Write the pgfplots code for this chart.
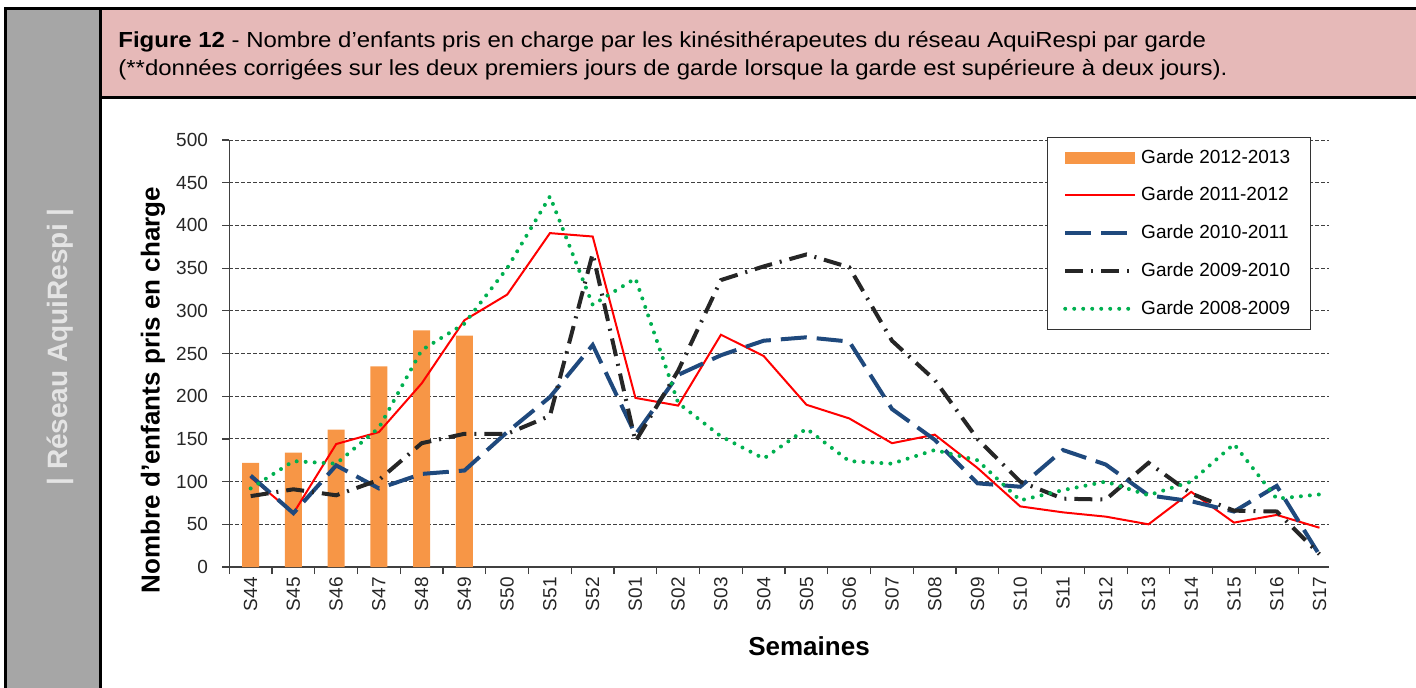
\documentclass[border=0pt]{standalone}
\usepackage{fontspec}
\setmainfont{Liberation Sans}
\newfontfamily\headfont{Liberation Sans}[FakeStretch=1.1]
\usepackage{pgfplots}
\pgfplotsset{compat=1.18}

\definecolor{barorange}{HTML}{F79646}
\definecolor{redline}{HTML}{FF0000}
\definecolor{blueline}{HTML}{1F497D}
\definecolor{darkline}{HTML}{262626}
\definecolor{greenline}{HTML}{00B050}
\definecolor{headpink}{HTML}{E6B9B8}
\definecolor{sidegrey}{HTML}{A6A6A6}
\definecolor{sidetext}{HTML}{E4E4E4}

\begin{document}
\begin{tikzpicture}
% frame, header and side band (pixel units, y downwards)
\begin{scope}[x=0.5pt,y=-0.5pt]
\useasboundingbox (0,0) rectangle (1416,687);
\fill[sidegrey] (5,8) rectangle (100,700);
\fill[headpink] (100,8) rectangle (1420,97);
\draw[line width=1.5pt] (5,700) -- (5,8) -- (1420,8);
\draw[line width=1.5pt] (100,700) -- (100,8);
\draw[line width=1.5pt] (100,97) -- (1420,97);
\node[anchor=base west, inner sep=0pt, font=\headfont\fontsize{10.9}{13}\selectfont] at (118,47)
  {\textbf{Figure 12} - Nombre d’enfants pris en charge par les kinésithérapeutes du réseau AquiRespi par garde};
\node[anchor=base west, inner sep=0pt, font=\headfont\fontsize{10.9}{13}\selectfont] at (118,75)
  {(**données corrigées sur les deux premiers jours de garde lorsque la garde est supérieure à deux jours).};
\node[rotate=90, text=sidetext, font=\bfseries\fontsize{14}{16}\selectfont] at (60,347) {| Réseau AquiRespi |};
\node[rotate=90, font=\bfseries\fontsize{13}{15}\selectfont] at (153,390) {Nombre d'enfants pris en charge};
\node[font=\bfseries\fontsize{13}{15}\selectfont] at (809,646) {Semaines};
\end{scope}

\begin{axis}[
    at={(114.65pt,-283.5pt)}, anchor=south west,
    scale only axis, width=550pt, height=213.5pt,
    xmin=-0.5, xmax=25.23, ymin=0, ymax=500,
    axis x line*=bottom, axis y line*=left,
    every outer x axis line/.append style={-},
    every outer y axis line/.append style={-},
    axis line style={-, black!75, line width=0.7pt},
    tick align=outside, major tick length=3.5pt, minor tick length=3.5pt,
    tick style={black!75, line width=0.6pt},
    ytick={0,50,...,500},
    xtick={0,...,25},
    xticklabels={S44,S45,S46,S47,S48,S49,S50,S51,S52,S01,S02,S03,S04,S05,S06,S07,S08,S09,S10,S11,S12,S13,S14,S15,S16,S17},
    minor xtick={-0.5,0.5,...,24.5},
    major x tick style={draw=none},
    ymajorgrids,
    major grid style={dash pattern=on 2pt off 1pt, black!75, line width=0.5pt},
    /pgf/number format/assume math mode=true,
    tick label style={font=\fontsize{9.5}{11}\selectfont, text=black!85},
    xticklabel style={rotate=90, anchor=east, inner sep=0pt, xshift=-1.5pt},
    yticklabel style={anchor=east, inner sep=0pt, xshift=-7pt},
    legend style={at={(0.743,1.0077)}, anchor=north west, draw=black!80,
        line width=0.6pt, fill=white, font=\fontsize{9.5}{11}\selectfont,
        inner xsep=8pt, inner ysep=4pt, row sep=6.5pt, cells={anchor=west}},
    legend cell align=left,
    legend image code/.code={\draw[#1] (0pt,0pt) -- (35pt,0pt);},
]

\addplot[ybar, bar width=8.5pt, fill=barorange, draw=none,
    legend image code/.code={\fill[barorange] (0pt,-3pt) rectangle (35pt,3pt);}]
    coordinates {(0,122)(1,134)(2,161)(3,235)(4,277)(5,271)};
\addlegendentry{Garde 2012-2013}

\addplot[redline, line width=1pt, mark=none]
    coordinates {(0,105)(1,63)(2,144)(3,158)(4,215)(5,289)(6,319)(7,391)(8,387)
    (9,198)(10,189)(11,272)(12,247)(13,190)(14,174)(15,145)(16,155)(17,116)
    (18,71)(19,64)(20,59)(21,50)(22,88)(23,52)(24,61)(25,46)};
\addlegendentry{Garde 2011-2012}

\addplot[blueline, line width=2pt, dash pattern=on 13pt off 5pt, mark=none]
    coordinates {(0,107)(1,63)(2,119)(3,92)(4,109)(5,113)(6,158)(7,199)(8,260)
    (9,155)(10,225)(11,248)(12,265)(13,269)(14,264)(15,185)(16,149)(17,98)
    (18,94)(19,137)(20,120)(21,84)(22,77)(23,65)(24,95)(25,14)};
\addlegendentry{Garde 2010-2011}

\addplot[darkline, line width=2pt, dash pattern=on 9pt off 4pt on 1pt off 4pt, mark=none]
    coordinates {(0,83)(1,91)(2,84)(3,102)(4,145)(5,156)(6,156)(7,177)(8,367)
    (9,147)(10,230)(11,336)(12,352)(13,366)(14,351)(15,265)(16,219)(17,150)
    (18,100)(19,80)(20,79)(21,122)(22,86)(23,66)(24,65)(25,15)};
\addlegendentry{Garde 2009-2010}

\addplot[greenline, line width=2pt, line cap=round, dash pattern=on 0pt off 4.5pt, mark=none]
    coordinates {(0,92)(1,124)(2,121)(3,163)(4,254)(5,285)(6,350)(7,434)(8,307)
    (9,338)(10,192)(11,153)(12,127)(13,162)(14,124)(15,121)(16,137)(17,125)
    (18,78)(19,90)(20,100)(21,84)(22,100)(23,144)(24,80)(25,85)};
\addlegendentry{Garde 2008-2009}

\end{axis}
\end{tikzpicture}
\end{document}
